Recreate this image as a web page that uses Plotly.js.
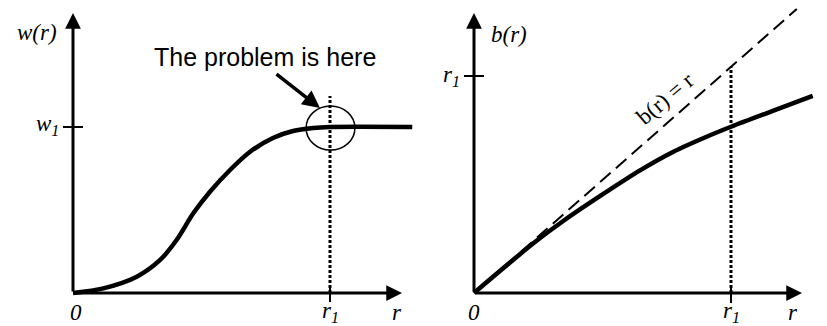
<!DOCTYPE html>
<html>
<head>
<meta charset="utf-8">
<script src="https://cdn.plot.ly/plotly-3.0.1.min.js"></script>
<style>
  body { margin: 0; background: #fff; }
  #chart { width: 827px; height: 326px; }
</style>
</head>
<body>
<div id="chart"></div>
<script>
// left panel: w(r), rises to w1 and is flat after r1
const wR = [0, 0.118, 0.248, 0.339, 0.403, 0.468, 0.533, 0.611, 0.689, 0.778, 0.856, 0.934, 1.0, 1.32]
const wVal = [0, 0.028, 0.098, 0.199, 0.319, 0.480, 0.610, 0.741, 0.851, 0.934, 0.976, 0.994, 1.0, 1.0]

// right panel: b(r) bends below the line b(r) = r
const bR = [0, 0.231, 0.35, 0.5, 0.646, 0.776, 0.905, 1.0, 1.16, 1.318]
const bVal = [0, 0.229, 0.334, 0.454, 0.565, 0.651, 0.720, 0.766, 0.838, 0.908]
const lineR = [0, 1.256]
const lineB = [0, 1.309]

const r1 = 1
const w1 = 1

// pixel scale of the drawing (units -> px)
const W = 827, H = 326, split = 420
const xUnit = 257
const wUnit = 166, bUnit = 217
const origin = {left: 73, right: 474, y: 293}

const black = "#000"
const serif = "Liberation Serif, Times New Roman, serif"

const traces = [
    {x: wR, y: wVal, xaxis: "x", yaxis: "y", mode: "lines",
     line: {color: black, width: 4.5, shape: "spline", smoothing: 0.8}},
    {x: lineR, y: lineB, xaxis: "x2", yaxis: "y2", mode: "lines",
     line: {color: black, width: 2, dash: "14px,7px"}},
    {x: bR, y: bVal, xaxis: "x2", yaxis: "y2", mode: "lines",
     line: {color: black, width: 4.5, shape: "spline", smoothing: 0.8}}
]

const axisArrow = (xr, yr, x, y, ax, ay) => ({
    xref: xr, yref: yr, axref: xr, ayref: yr,
    x, y, ax, ay, text: "", showarrow: true,
    arrowhead: 2, arrowsize: 1.05, arrowwidth: 3, arrowcolor: black
})

const label = (xr, yr, x, y, text, extra) => Object.assign({
    xref: xr, yref: yr, x, y, text, showarrow: false,
    font: {family: serif, size: 23, color: black}
}, extra || {})

const wTop = (origin.y - 13) / wUnit
const bTop = (origin.y - 13) / bUnit
const wRight = (402 - origin.left) / xUnit
const bRight = (802 - origin.right) / xUnit
const tickX = 10 / xUnit

const annotations = [
    axisArrow("x", "y", 0, wTop, 0, 0),
    axisArrow("x", "y", wRight, 0, 0, 0),
    axisArrow("x2", "y2", 0, bTop, 0, 0),
    axisArrow("x2", "y2", bRight, 0, 0, 0),

    label("x", "y", -0.14, 1.57, "<i>w(r)</i>"),
    label("x", "y", -0.045, w1 + 0.01, "<i>w<sub>1</sub></i>", {xanchor: "right"}),
    label("x", "y", 0.01, -0.12, "<i>0</i>"),
    label("x", "y", r1, -0.115, "<i>r<sub>1</sub></i>"),
    label("x", "y", 1.26, -0.12, "<i>r</i>"),

    label("x2", "y2", 0.136, 1.19, "<i>b(r)</i>"),
    label("x2", "y2", -0.045, r1, "<i>r<sub>1</sub></i>", {xanchor: "right"}),
    label("x2", "y2", 0.0, -0.092, "<i>0</i>"),
    label("x2", "y2", r1, -0.088, "<i>r<sub>1</sub></i>"),
    label("x2", "y2", 1.241, -0.092, "<i>r</i>"),
    label("x2", "y2", 0.745, 0.895, "b(r) = r", {textangle: -40, font: {family: serif, size: 23, color: black}}),

    {xref: "x", yref: "y", x: 0.749, y: 1.42, text: "The problem is here", showarrow: false,
     font: {family: "Liberation Sans, Arial, sans-serif", size: 25, color: black}},
    {xref: "x", yref: "y", axref: "x", ayref: "y", x: 0.961, y: 1.114, ax: 0.786, ay: 1.325,
     text: "", showarrow: true, arrowhead: 2, arrowsize: 1, arrowwidth: 3.5, arrowcolor: black}
]

const shapes = [
    // dotted drops at r1
    {type: "line", xref: "x", yref: "y", x0: r1, x1: r1, y0: 0, y1: (origin.y - 96) / wUnit,
     line: {color: black, width: 3, dash: "3px,2px"}},
    {type: "line", xref: "x2", yref: "y2", x0: r1, x1: r1, y0: 0, y1: lineB[1] / lineR[1] * r1,
     line: {color: black, width: 3, dash: "3px,2px"}},
    // ticks crossing the axes
    {type: "line", xref: "x", yref: "y", x0: -tickX, x1: tickX, y0: w1, y1: w1, line: {color: black, width: 2}},
    {type: "line", xref: "x", yref: "y", x0: r1, x1: r1, y0: 6 / wUnit, y1: -9 / wUnit, line: {color: black, width: 2}},
    {type: "line", xref: "x2", yref: "y2", x0: -tickX, x1: tickX, y0: r1, y1: r1, line: {color: black, width: 2}},
    {type: "line", xref: "x2", yref: "y2", x0: r1, x1: r1, y0: 6 / bUnit, y1: -10 / bUnit, line: {color: black, width: 2}},
    // circle round the trouble spot
    {type: "circle", xref: "x", yref: "y", x0: 0.907, x1: 1.097, y0: 0.861, y1: 1.127,
     line: {color: black, width: 1.5}}
]

const hidden = {visible: false, showgrid: false, zeroline: false, fixedrange: true}

const layout = {
    width: W, height: H,
    margin: {l: 0, r: 0, t: 0, b: 0},
    paper_bgcolor: "#fff", plot_bgcolor: "#fff",
    showlegend: false,
    xaxis: Object.assign({}, hidden, {domain: [0, split / W], anchor: "y",
        range: [-origin.left / xUnit, (split - origin.left) / xUnit]}),
    yaxis: Object.assign({}, hidden, {domain: [0, 1], anchor: "x",
        range: [-(H - origin.y) / wUnit, origin.y / wUnit]}),
    xaxis2: Object.assign({}, hidden, {domain: [split / W, 1], anchor: "y2",
        range: [(split - origin.right) / xUnit, (W - origin.right) / xUnit]}),
    yaxis2: Object.assign({}, hidden, {domain: [0, 1], anchor: "x2",
        range: [-(H - origin.y) / bUnit, origin.y / bUnit]}),
    annotations,
    shapes
}

Plotly.newPlot("chart", traces, layout, {staticPlot: true})
</script>
</body>
</html>
